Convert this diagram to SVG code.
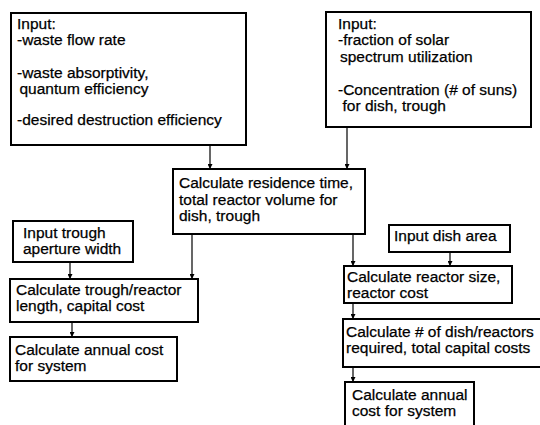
<svg xmlns="http://www.w3.org/2000/svg" width="540" height="425" viewBox="0 0 540 425">
<defs>
<style>
.box{fill:#fff;stroke:#000;stroke-width:2}
.t{font-family:"Liberation Sans",Arial,sans-serif;font-size:15.5px;fill:#000;stroke:#000;stroke-width:0.25}
.c{stroke:#000;stroke-width:1.2;fill:none;marker-end:url(#ah)}
</style>
<marker id="ah" viewBox="0 0 6 6" refX="6" refY="3" markerWidth="5" markerHeight="5" orient="auto" markerUnits="userSpaceOnUse">
<path d="M0,0 L6,3 L0,6 z" fill="#000"/>
</marker>
</defs>
<rect width="540" height="425" fill="#fff"/>
<g id="connectors">
<line class="c" x1="210" y1="145" x2="210" y2="169"/>
<line class="c" x1="347" y1="127" x2="347" y2="169"/>
<line class="c" x1="192" y1="234" x2="192" y2="279"/>
<line class="c" x1="353" y1="234" x2="353" y2="266"/>
<line class="c" x1="70" y1="262" x2="70" y2="279"/>
<line class="c" x1="72" y1="322" x2="72" y2="337"/>
<line class="c" x1="450" y1="252" x2="450" y2="266"/>
<line class="c" x1="353" y1="303" x2="353" y2="319"/>
<line class="c" x1="353" y1="367" x2="353" y2="382"/>
</g>
<g id="input-waste">
<rect class="box" x="11" y="13" width="235" height="132"/>
<text class="t" x="17" y="28.5">Input:</text>
<text class="t" x="17" y="44.5">-waste flow rate</text>
<text class="t" x="17" y="77.5">-waste absorptivity,</text>
<text class="t" x="19.5" y="93.5">quantum efficiency</text>
<text class="t" x="17" y="125">-desired destruction efficiency</text>
</g>
<g id="input-solar">
<rect class="box" x="326" y="12" width="205" height="115"/>
<text class="t" x="338" y="28.5">Input:</text>
<text class="t" x="338" y="45">-fraction of solar</text>
<text class="t" x="340" y="61.5">spectrum utilization</text>
<text class="t" x="338" y="94.5">-Concentration (# of suns)</text>
<text class="t" x="342.5" y="110.5">for dish, trough</text>
</g>
<g id="residence">
<rect class="box" x="173" y="169" width="192" height="65"/>
<text class="t" x="179" y="188">Calculate residence time,</text>
<text class="t" x="179" y="204.5">total reactor volume for</text>
<text class="t" x="179" y="221">dish, trough</text>
</g>
<g id="input-trough">
<rect class="box" x="13" y="221" width="120" height="41"/>
<text class="t" x="23" y="238">Input trough</text>
<text class="t" x="23" y="254">aperture width</text>
</g>
<g id="trough-length">
<rect class="box" x="10" y="279" width="188" height="43"/>
<text class="t" x="16" y="295">Calculate trough/reactor</text>
<text class="t" x="16" y="311">length, capital cost</text>
</g>
<g id="trough-annual">
<rect class="box" x="10" y="337" width="167" height="44"/>
<text class="t" x="15" y="355">Calculate annual cost</text>
<text class="t" x="15" y="371">for system</text>
</g>
<g id="input-dish">
<rect class="box" x="389" y="225" width="121" height="27"/>
<text class="t" x="394" y="241">Input dish area</text>
</g>
<g id="reactor-size">
<rect class="box" x="344" y="266" width="168" height="37"/>
<text class="t" x="347" y="281.5">Calculate reactor size,</text>
<text class="t" x="347" y="297.5">reactor cost</text>
</g>
<g id="dish-count">
<rect class="box" x="343" y="319" width="200" height="48"/>
<text class="t" x="346" y="337">Calculate # of dish/reactors</text>
<text class="t" x="346" y="353">required, total capital costs</text>
</g>
<g id="dish-annual">
<rect class="box" x="345" y="382" width="129" height="50"/>
<text class="t" x="352" y="400">Calculate annual</text>
<text class="t" x="352" y="416">cost for system</text>
</g>
</svg>
